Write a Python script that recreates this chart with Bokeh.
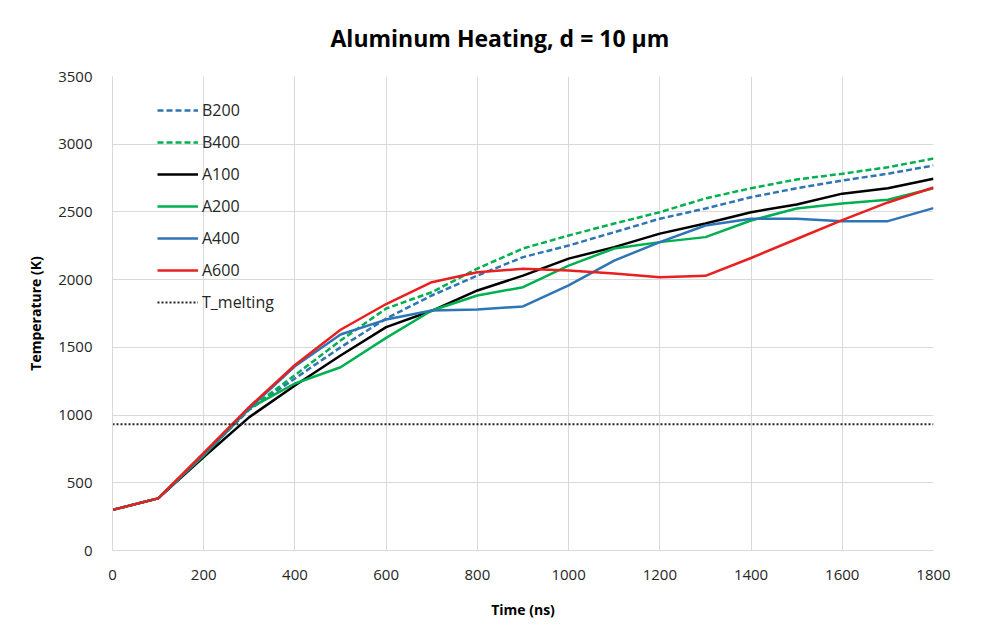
from bokeh.plotting import figure
from bokeh.models import Legend, LegendItem, Range1d, SingleIntervalTicker
from bokeh.embed import file_html
from bokeh.resources import INLINE

time_ns = [0, 100, 200, 300, 400, 500, 600, 700, 800, 900, 1000, 1100, 1200, 1300, 1400, 1500, 1600, 1700, 1800]
B200 = [300, 385, 705, 1040, 1270, 1500, 1713, 1883, 2030, 2166, 2252, 2350, 2450, 2525, 2609, 2675, 2732, 2782, 2843]
B400 = [300, 385, 705, 1045, 1295, 1550, 1787, 1907, 2082, 2230, 2326, 2414, 2498, 2600, 2675, 2740, 2782, 2830, 2894]
A100 = [300, 385, 690, 985, 1218, 1440, 1649, 1770, 1920, 2030, 2155, 2240, 2340, 2414, 2498, 2555, 2635, 2675, 2745]
A200 = [300, 385, 700, 1050, 1233, 1353, 1570, 1772, 1883, 1944, 2104, 2230, 2277, 2314, 2437, 2525, 2562, 2590, 2675]
A400 = [300, 385, 710, 1050, 1360, 1595, 1705, 1772, 1780, 1802, 1957, 2141, 2277, 2400, 2450, 2450, 2432, 2432, 2528]
A600 = [300, 385, 720, 1060, 1370, 1630, 1820, 1981, 2055, 2080, 2067, 2045, 2018, 2028, 2160, 2300, 2440, 2570, 2680]
T_melting = [933] * len(time_ns)

FONT = "Open Sans"

p = figure(width=1003, height=639, output_backend="svg", toolbar_location=None,
           x_range=Range1d(0, 1800), y_range=Range1d(0, 3500),
           min_border_left=112, min_border_right=70, min_border_top=76, min_border_bottom=89)

p.title.text = "Aluminum Heating, d = 10 \u00b5m"
p.title.align = "left"
p.title.offset = 218
p.title.vertical_align = "top"
p.title.text_font = FONT
p.title.text_font_size = "23px"
p.title.text_font_style = "bold"
p.title.text_color = "#000000"
p.title.standoff = 41

p.outline_line_color = None
p.background_fill_color = "white"
p.border_fill_color = "white"

p.xaxis.ticker = SingleIntervalTicker(interval=200)
p.yaxis.ticker = SingleIntervalTicker(interval=500)
for ax in (p.xaxis, p.yaxis):
    ax.major_tick_line_color = None
    ax.minor_tick_line_color = None
    ax.axis_line_color = "#d9d9d9"
    ax.major_label_text_font = FONT
    ax.major_label_text_font_size = "15px"
    ax.major_label_text_color = "#262626"
    ax.axis_label_text_font = FONT
    ax.axis_label_text_font_size = "14px"
    ax.axis_label_text_font_style = "bold"
    ax.axis_label_text_color = "#000000"
p.xaxis.axis_label = "Time (ns)"
p.yaxis.axis_label = "Temperature (K)"
p.xaxis.major_label_standoff = 13
p.yaxis.major_label_standoff = 14
p.xaxis.axis_label_standoff = 17
p.yaxis.axis_label_standoff = 10

p.xgrid.grid_line_color = "#d9d9d9"
p.ygrid.grid_line_color = "#d9d9d9"

blue = "#2e75b6"
green = "#00b050"
red = "#e8201f"

r_b200 = p.line(time_ns, B200, line_color=blue, line_width=2.5, line_dash="6 3")
r_b400 = p.line(time_ns, B400, line_color=green, line_width=2.5, line_dash="6 3")
r_a100 = p.line(time_ns, A100, line_color="#000000", line_width=2.5)
r_a200 = p.line(time_ns, A200, line_color=green, line_width=2.5)
r_a400 = p.line(time_ns, A400, line_color=blue, line_width=2.5)
r_a600 = p.line(time_ns, A600, line_color=red, line_width=2.5)
r_melt = p.line(time_ns, T_melting, line_color="#262626", line_width=2, line_dash="2 2")

legend = Legend(items=[
    LegendItem(label="B200", renderers=[r_b200]),
    LegendItem(label="B400", renderers=[r_b400]),
    LegendItem(label="A100", renderers=[r_a100]),
    LegendItem(label="A200", renderers=[r_a200]),
    LegendItem(label="A400", renderers=[r_a400]),
    LegendItem(label="A600", renderers=[r_a600]),
    LegendItem(label="T_melting", renderers=[r_melt]),
], location=(45, 237))
legend.border_line_color = None
legend.background_fill_alpha = 0
legend.margin = 0
legend.padding = 0
legend.spacing = 10
legend.glyph_width = 41
legend.glyph_height = 20
legend.label_height = 20
legend.label_standoff = 4
legend.label_text_font = FONT
legend.label_text_font_size = "16px"
legend.label_text_color = "#262626"
p.add_layout(legend, "center")

open("out.html", "w").write(file_html(p, INLINE))
